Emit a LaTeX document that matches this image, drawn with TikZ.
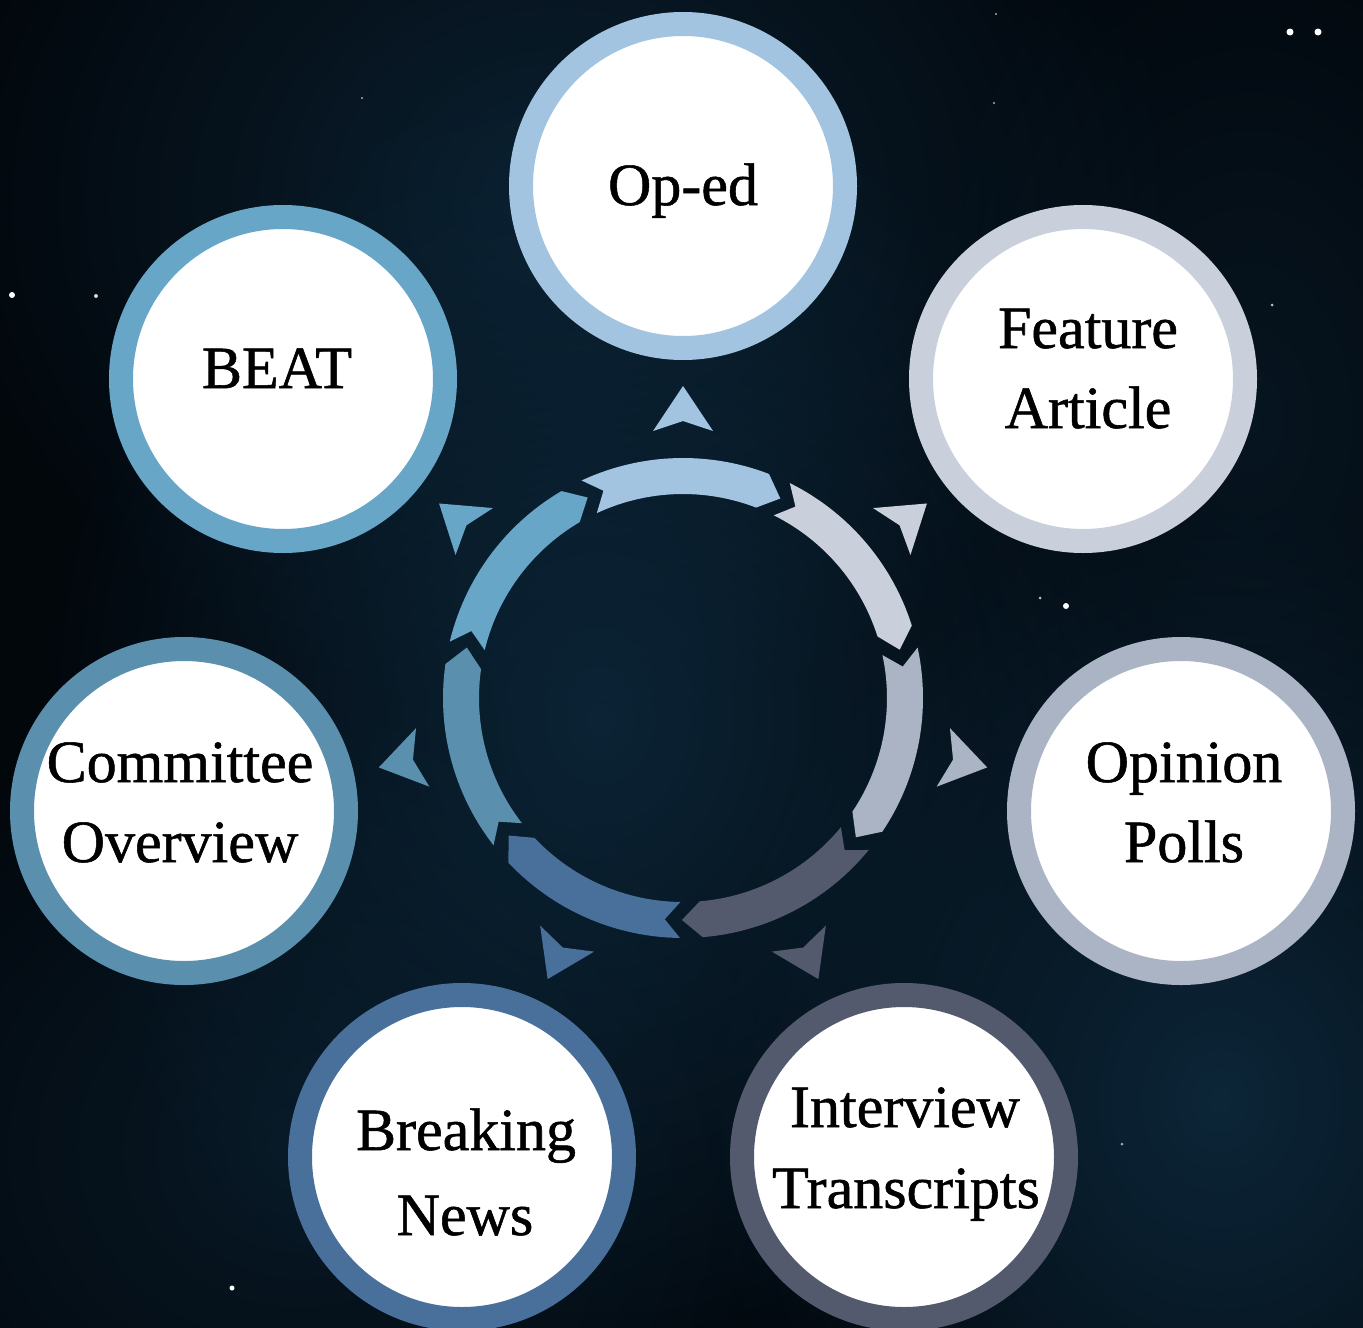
\documentclass[tikz,border=0pt]{standalone}
\usepackage{fontspec}
\usetikzlibrary{fadings}
\newfontfamily\lblfont[FakeBold=0.9]{Liberation Serif}
\definecolor{bg}{HTML}{02070C}
\definecolor{haze}{HTML}{0E2B40}
\definecolor{cA}{HTML}{A2C4E0}
\definecolor{cB}{HTML}{C9D0DC}
\definecolor{cC}{HTML}{AAB4C4}
\definecolor{cD}{HTML}{535A6E}
\definecolor{cE}{HTML}{48709A}
\definecolor{cF}{HTML}{5A90AD}
\definecolor{cG}{HTML}{68A6C8}
\tikzfading[name=softglow, inner color=transparent!0, outer color=transparent!100]
\tikzset{
  bub/.style={circle, inner sep=0pt, minimum size=324pt, line width=24pt, draw=#1, fill=white},
  lbl/.style={anchor=base, inner sep=0pt, font=\lblfont\fontsize{60}{72}\selectfont, text=black},
  glow/.style={fill=haze, path fading=softglow, fit fading=true, fill opacity=#1}
}
\begin{document}
\begin{tikzpicture}[x=1pt,y=-1pt]
\useasboundingbox (0,0) rectangle (1363,1328);
\clip (0,0) rectangle (1363,1328);
\fill[bg] (0,0) rectangle (1363,1328);
% haze
\fill[glow=0.7] (560,200) ellipse (620 and 520);
\fill[glow=0.8] (600,720) ellipse (560 and 660);
\fill[glow=0.85] (1220,1100) ellipse (520 and 600);
\fill[glow=0.5] (300,1150) ellipse (520 and 460);
\fill[glow=0.4] (1250,420) ellipse (360 and 560);
% stars
\fill[white] (1290,32) circle (3.5);
\fill[white] (1318,32) circle (3.5);
\fill[white] (12,295) circle (3);
\fill[white!80!haze] (96,296) circle (2);
\fill[white] (1066,606) circle (3);
\fill[white!70!haze] (1040,598) circle (1.5);
\fill[white] (232,1288) circle (2.5);
\fill[white!70!haze] (1272,305) circle (1.5);
\fill[white!60!haze] (362,98) circle (1.2);
\fill[white!60!haze] (996,14) circle (1.2);
\fill[white!60!haze] (1122,1144) circle (1.5);
\fill[white!60!haze] (994,103) circle (1.2);
% ring segments and arrowheads
\begin{scope}[shift={(683,698)}]
\foreach \k/\c in {0/cA,1/cB,2/cC,3/cD,4/cE,5/cF,6/cG}{
  \pgfmathsetmacro\t{-90+51.428571*\k}
  \pgfmathsetmacro\ta{\t-25}
  \pgfmathsetmacro\tb{\t+21}
  \pgfmathsetmacro\tn{\t-21}
  \pgfmathsetmacro\tp{\t+26}
  \pgfmathsetmacro\tl{\t+6.41}
  \pgfmathsetmacro\tr{\t-6.41}
  \fill[\c] plot[domain=\ta:\tb, samples=30] (\x:240) -- (\tp:222)
     -- plot[domain=\tb:\ta, samples=30] (\x:204) -- (\tn:222) -- cycle;
  \fill[\c] (\t:312) -- (\tl:268.7) -- (\t:277) -- (\tr:268.7) -- cycle;
}
\end{scope}
% circles
\node[bub=cA] (oped) at (683,186) {};
\node[bub=cB] (feat) at (1083,379) {};
\node[bub=cC] (poll) at (1181,811) {};
\node[bub=cD] (intv) at (904,1157) {};
\node[bub=cE] (brk) at (462,1157) {};
\node[bub=cF] (comm) at (184,811) {};
\node[bub=cG] (beat) at (283,379) {};
% labels
\node[lbl] (t1) at (683,205) {Op-ed};
\node[lbl] (t2a) at (1088,348) {Feature};
\node[lbl] (t2b) at (1088,428) {Article};
\node[lbl] (t3a) at (1184,782) {Opinion};
\node[lbl] (t3b) at (1184,862) {Polls};
\node[lbl] (t4a) at (905,1127) {Interview};
\node[lbl] (t4b) at (906,1208) {Transcripts};
\node[lbl] (t5a) at (466,1150) {Breaking};
\node[lbl] (t5b) at (465,1235) {News};
\node[lbl] (t6a) at (180,782) {Committee};
\node[lbl] (t6b) at (180,862) {Overview};
\node[lbl] (t7) at (277,388) {BEAT};
\end{tikzpicture}
\end{document}
